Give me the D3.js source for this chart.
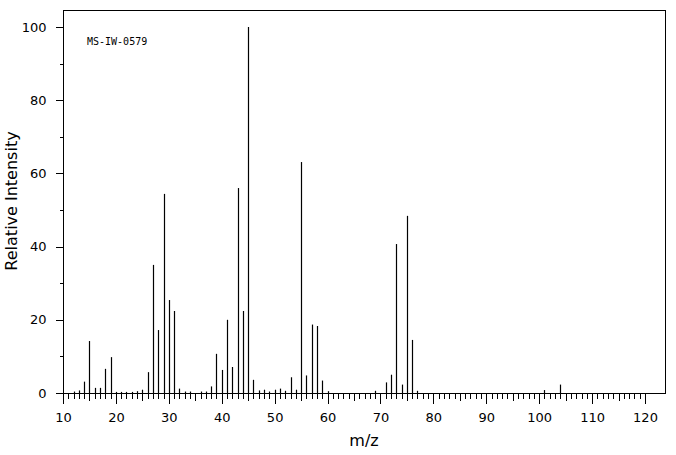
<!DOCTYPE html>
<html>
<head>
<meta charset="utf-8">
<script src="https://cdn.jsdelivr.net/npm/d3@7"></script>
<style>
  body { margin: 0; background: #fff; }
  svg { display: block; }
  text { font-family: "DejaVu Sans", sans-serif; fill: #000; }
</style>
</head>
<body>
<div id="chart"></div>
<script>
// peaks
var mz = [12, 13, 14, 15, 16, 17, 18, 19, 20, 21, 22, 23, 24, 25, 26, 27, 28, 29, 30, 31,
          32, 33, 34, 36, 37, 38, 39, 40, 41, 42, 43, 44, 45, 46, 47, 48, 49, 50, 51, 52,
          53, 54, 55, 56, 57, 58, 59, 60, 69, 71, 72, 73, 74, 75, 76, 77, 101, 104];
var intensity = [0.4, 0.7, 3.1, 14.2, 1.4, 1.4, 6.6, 9.8, 0.3, 0.3, 0.3, 0.3, 0.5, 0.9, 5.7, 35.0, 17.2, 54.4, 25.4, 22.4,
                 1.2, 0.4, 0.4, 0.4, 0.4, 1.8, 10.7, 6.3, 20.0, 7.1, 56.0, 22.4, 100, 3.6, 0.7, 0.9, 0.4, 0.9, 1.2, 0.6,
                 4.3, 0.9, 63.1, 4.8, 18.7, 18.3, 3.4, 0.5, 0.6, 2.9, 5.0, 40.7, 2.3, 48.4, 14.5, 0.6, 0.8, 2.3];
var xTicks = d3.range(10, 121);
var yTicks = d3.range(0, 101, 10);
var sampleId = "MS-IW-0579";

var width = 676, height = 455;
var box = { left: 63, right: 665, top: 10, bottom: 393 };

var svg = d3.select("#chart").append("svg")
    .attr("width", width)
    .attr("height", height);

var x = d3.scaleLinear().domain([10, 120]).range([63, 645]);
var y = d3.scaleLinear().domain([0, 100]).range([393, 27]);

// frame
svg.append("rect")
    .attr("x", box.left + 0.5).attr("y", box.top + 0.5)
    .attr("width", box.right - box.left).attr("height", box.bottom - box.top)
    .style("fill", "none").style("stroke", "#000").style("stroke-width", 1)
    .style("shape-rendering", "crispEdges");

// peaks
svg.append("g").selectAll("line")
    .data(mz.map(function(m, i) { return { m: m, v: intensity[i] }; }))
  .enter().append("line")
    .attr("x1", function(d) { return Math.round(x(d.m)) + 0.5; })
    .attr("x2", function(d) { return Math.round(x(d.m)) + 0.5; })
    .attr("y1", y(0))
    .attr("y2", function(d) { return y(d.v); })
    .style("stroke", "#000").style("stroke-width", 1.2);

// x axis
var xAxis = svg.append("g")
    .attr("transform", "translate(0," + (box.bottom + 0.5) + ")")
    .call(d3.axisBottom(x).tickValues(xTicks).tickSize(5).tickPadding(14)
      .tickFormat(function(d) { return d % 10 == 0 ? d : ""; }));
xAxis.select(".domain").remove();
xAxis.selectAll(".tick line")
    .attr("y2", function(d) { return d % 10 == 0 ? 10 : (d % 5 == 0 ? 7 : 5); })
    .style("shape-rendering", "crispEdges");
xAxis.selectAll(".tick text").style("font-size", "13px").style("font-family", "DejaVu Sans, sans-serif");

// y axis
var yAxis = svg.append("g")
    .attr("transform", "translate(" + (box.left + 0.5) + ",0)")
    .call(d3.axisLeft(y).tickValues(yTicks).tickSize(8).tickPadding(9)
      .tickFormat(function(d) { return d % 20 == 0 ? d : ""; }));
yAxis.select(".domain").remove();
yAxis.selectAll(".tick line")
    .attr("x2", function(d) { return d % 20 == 0 ? -8 : -4; })
    .style("shape-rendering", "crispEdges");
yAxis.selectAll(".tick text").style("font-size", "13px").style("font-family", "DejaVu Sans, sans-serif");

// axis titles
svg.append("text")
    .attr("x", 364).attr("y", 446)
    .style("text-anchor", "middle").style("font-size", "16px")
    .text("m/z");

svg.append("text")
    .attr("transform", "translate(17,201) rotate(-90)")
    .style("text-anchor", "middle").style("font-size", "16px")
    .text("Relative Intensity");

svg.append("text")
    .attr("x", 87).attr("y", 45)
    .style("font-family", "DejaVu Sans Mono, monospace").style("font-size", "10px")
    .text(sampleId);
</script>
</body>
</html>
